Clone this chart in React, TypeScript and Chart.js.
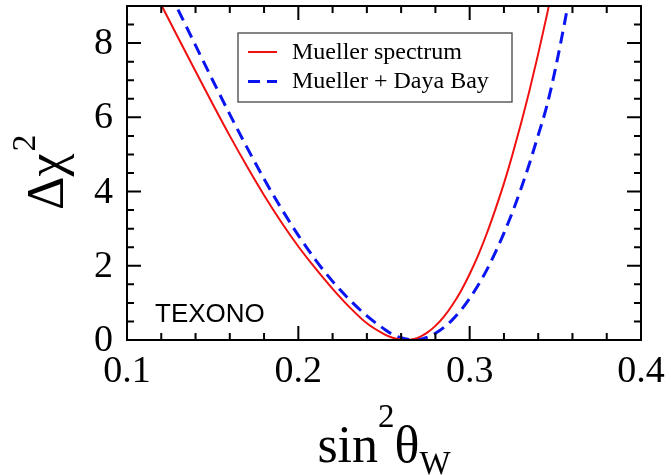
import React, { useEffect, useRef } from 'react';
import { Chart, registerables } from 'chart.js';

Chart.register(...registerables);

// ---- data ----
const X_MIN = 0.1;
const X_MAX = 0.4;
const Y_MIN = 0;
const Y_MAX = 9;
const X_MAJOR = [0.1, 0.2, 0.3, 0.4];
const X_MINOR = [0.12, 0.14, 0.16, 0.18, 0.22, 0.24, 0.26, 0.28, 0.32, 0.34, 0.36, 0.38];
const Y_MAJOR = [0, 2, 4, 6, 8];
const Y_MINOR = [0.5, 1, 1.5, 2.5, 3, 3.5, 4.5, 5, 5.5, 6.5, 7, 7.5, 8.5];
const X_TICK_LABELS = ['0.1', '0.2', '0.3', '0.4'];
const Y_TICK_LABELS = ['0', '2', '4', '6', '8'];

const SERIES_LABELS = ['Mueller spectrum', 'Mueller + Daya Bay'];
const EXPERIMENT_LABEL = 'TEXONO';

const muellerX = [0.12, 0.13, 0.14, 0.15, 0.16, 0.17, 0.18, 0.19, 0.2, 0.21, 0.22, 0.23, 0.24, 0.25, 0.255, 0.26, 0.263, 0.265, 0.27, 0.275, 0.28, 0.285, 0.29, 0.295, 0.3, 0.305, 0.31, 0.315, 0.32, 0.325, 0.33, 0.335, 0.34, 0.345, 0.35];
const muellerY = [9.03, 8.13, 7.24, 6.36, 5.5, 4.68, 3.9, 3.18, 2.52, 1.93, 1.38, 0.88, 0.45, 0.16, 0.06, 0.01, 0.0, 0.005, 0.064, 0.19, 0.38, 0.63, 0.95, 1.33, 1.78, 2.29, 2.87, 3.52, 4.22, 5.0, 5.84, 6.74, 7.71, 8.74, 9.84];

const dayaBayX = [0.12, 0.13, 0.14, 0.15, 0.16, 0.17, 0.18, 0.19, 0.2, 0.21, 0.22, 0.23, 0.24, 0.25, 0.255, 0.26, 0.265, 0.267, 0.27, 0.275, 0.28, 0.285, 0.29, 0.295, 0.3, 0.305, 0.31, 0.315, 0.32, 0.325, 0.33, 0.335, 0.34, 0.345, 0.35, 0.355, 0.36];
const dayaBayY = [9.82, 8.88, 7.94, 7.0, 6.08, 5.19, 4.34, 3.55, 2.82, 2.16, 1.58, 1.08, 0.65, 0.3, 0.15, 0.06, 0.01, 0.0, 0.01, 0.07, 0.18, 0.34, 0.55, 0.81, 1.12, 1.48, 1.89, 2.36, 2.88, 3.45, 4.08, 4.77, 5.52, 6.3, 7.3, 8.45, 9.7];

const RED = '#f01010';
const BLUE = '#0a14f0';

const SERIF = '"Liberation Serif", "Times New Roman", serif';
const SANS = '"Liberation Sans", Arial, sans-serif';

const decorPlugin = {
  id: 'decor',
  afterDatasetsDraw(chart: any) {
    const { ctx, chartArea: a, scales } = chart;
    const xs = scales.x;
    const ys = scales.y;
    ctx.save();
    ctx.strokeStyle = '#000';
    ctx.lineWidth = 2;
    ctx.lineCap = 'butt';
    // frame
    ctx.strokeRect(a.left, a.top, a.right - a.left, a.bottom - a.top);
    const xTick = (v: number, len: number) => {
      const p = xs.getPixelForValue(v);
      ctx.beginPath();
      ctx.moveTo(p, a.bottom);
      ctx.lineTo(p, a.bottom - len);
      ctx.moveTo(p, a.top);
      ctx.lineTo(p, a.top + len);
      ctx.stroke();
    };
    const yTick = (v: number, len: number) => {
      const p = ys.getPixelForValue(v);
      ctx.beginPath();
      ctx.moveTo(a.left, p);
      ctx.lineTo(a.left + len, p);
      ctx.moveTo(a.right, p);
      ctx.lineTo(a.right - len, p);
      ctx.stroke();
    };
    X_MAJOR.forEach((v) => xTick(v, 14));
    X_MINOR.forEach((v) => xTick(v, 7));
    Y_MAJOR.forEach((v) => yTick(v, 14));
    Y_MINOR.forEach((v) => yTick(v, 7));

    // tick labels
    ctx.fillStyle = '#000';
    ctx.font = `38px ${SERIF}`;
    ctx.textBaseline = 'middle';
    ctx.textAlign = 'center';
    X_MAJOR.forEach((v, i) => {
      ctx.fillText(X_TICK_LABELS[i], xs.getPixelForValue(v), a.bottom + 32);
    });
    ctx.textAlign = 'right';
    Y_MAJOR.forEach((v, i) => {
      ctx.fillText(Y_TICK_LABELS[i], a.left - 14, ys.getPixelForValue(v) + 1);
    });

    // legend
    const lx = a.left + 111;
    const ly = a.top + 27;
    const lw = 274;
    const lh = 69;
    ctx.fillStyle = '#fff';
    ctx.fillRect(lx, ly, lw, lh);
    ctx.strokeStyle = '#444';
    ctx.lineWidth = 1.3;
    ctx.strokeRect(lx, ly, lw, lh);
    const dsets = chart.data.datasets;
    const rows = [19, 48.5];
    dsets.forEach((ds: any, i: number) => {
      const yy = ly + rows[i];
      ctx.beginPath();
      ctx.strokeStyle = ds.borderColor;
      ctx.lineWidth = ds.borderWidth;
      ctx.setLineDash(ds.borderDash || []);
      ctx.moveTo(lx + 10, yy);
      ctx.lineTo(lx + 39, yy);
      ctx.stroke();
      ctx.setLineDash([]);
      ctx.fillStyle = '#000';
      ctx.font = `24px ${SERIF}`;
      ctx.textAlign = 'left';
      ctx.textBaseline = 'alphabetic';
      ctx.fillText(ds.label, lx + 54, yy + 6.5);
    });

    // experiment label
    ctx.fillStyle = '#000';
    ctx.font = `26px ${SANS}`;
    ctx.textAlign = 'left';
    ctx.textBaseline = 'alphabetic';
    ctx.fillText(EXPERIMENT_LABEL, a.left + 28, a.bottom - 18);

    // y-axis title: Δχ²
    ctx.save();
    ctx.translate(63, 210);
    ctx.rotate(-Math.PI / 2);
    ctx.font = `52px ${SERIF}`;
    ctx.fillText('\u0394\u03C7', 0, 0);
    const w1 = ctx.measureText('\u0394\u03C7').width;
    ctx.font = `34px ${SERIF}`;
    ctx.fillText('2', w1 + 2, -28);
    ctx.restore();

    // x-axis title: sin²θ_W
    ctx.font = `52px ${SERIF}`;
    const sinW = ctx.measureText('sin').width;
    ctx.font = `33px ${SERIF}`;
    const twoW = ctx.measureText('2').width;
    ctx.font = `52px ${SERIF}`;
    const thW = ctx.measureText('\u03B8').width;
    ctx.font = `33px ${SERIF}`;
    const wW = ctx.measureText('W').width;
    const total = sinW + twoW + thW + wW;
    let cx = (a.left + a.right) / 2 - total / 2;
    const base = 462;
    ctx.font = `52px ${SERIF}`;
    ctx.fillText('sin', cx, base);
    cx += sinW;
    ctx.font = `33px ${SERIF}`;
    ctx.fillText('2', cx, base - 35);
    cx += twoW;
    ctx.font = `52px ${SERIF}`;
    ctx.fillText('\u03B8', cx, base);
    cx += thW;
    ctx.font = `33px ${SERIF}`;
    ctx.fillText('W', cx, base + 12);

    ctx.restore();
  },
};

export default function App() {
  const ref = useRef<HTMLCanvasElement | null>(null);
  useEffect(() => {
    if (!ref.current) return;
    const chart = new Chart(ref.current, {
      type: 'scatter',
      data: {
        datasets: [
          {
            label: SERIES_LABELS[0],
            data: muellerX.map((x, i) => ({ x, y: muellerY[i] })),
            borderColor: RED,
            backgroundColor: RED,
            borderWidth: 2,
            pointRadius: 0,
            showLine: true,
            fill: false,
            cubicInterpolationMode: 'monotone',
          },
          {
            label: SERIES_LABELS[1],
            data: dayaBayX.map((x, i) => ({ x, y: dayaBayY[i] })),
            borderColor: BLUE,
            backgroundColor: BLUE,
            borderWidth: 3,
            borderDash: [12, 7],
            pointRadius: 0,
            showLine: true,
            fill: false,
            cubicInterpolationMode: 'monotone',
          },
        ],
      } as any,
      options: {
        animation: false,
        responsive: false,
        devicePixelRatio: 1,
        layout: { padding: { top: 6, right: 30, left: 0, bottom: 0 } },
        plugins: { legend: { display: false }, tooltip: { enabled: false } },
        scales: {
          x: {
            type: 'linear',
            min: X_MIN,
            max: X_MAX,
            afterBuildTicks: (s: any) => {
              s.ticks = X_MAJOR.map((v) => ({ value: v }));
            },
            afterFit: (s: any) => {
              s.height = 135;
            },
            grid: { display: false, drawTicks: false },
            border: { display: false },
            ticks: { display: false },
          },
          y: {
            type: 'linear',
            min: Y_MIN,
            max: Y_MAX,
            afterBuildTicks: (s: any) => {
              s.ticks = Y_MAJOR.map((v) => ({ value: v }));
            },
            afterFit: (s: any) => {
              s.width = 127;
            },
            grid: { display: false, drawTicks: false },
            border: { display: false },
            ticks: { display: false },
          },
        },
      } as any,
      plugins: [decorPlugin],
    });
    return () => chart.destroy();
  }, []);
  return (
    <div style={{ position: 'absolute', left: 0, top: 0, width: 671, height: 475, background: '#fff' }}>
      <canvas ref={ref} width={671} height={475} style={{ display: 'block' }} />
    </div>
  );
}
